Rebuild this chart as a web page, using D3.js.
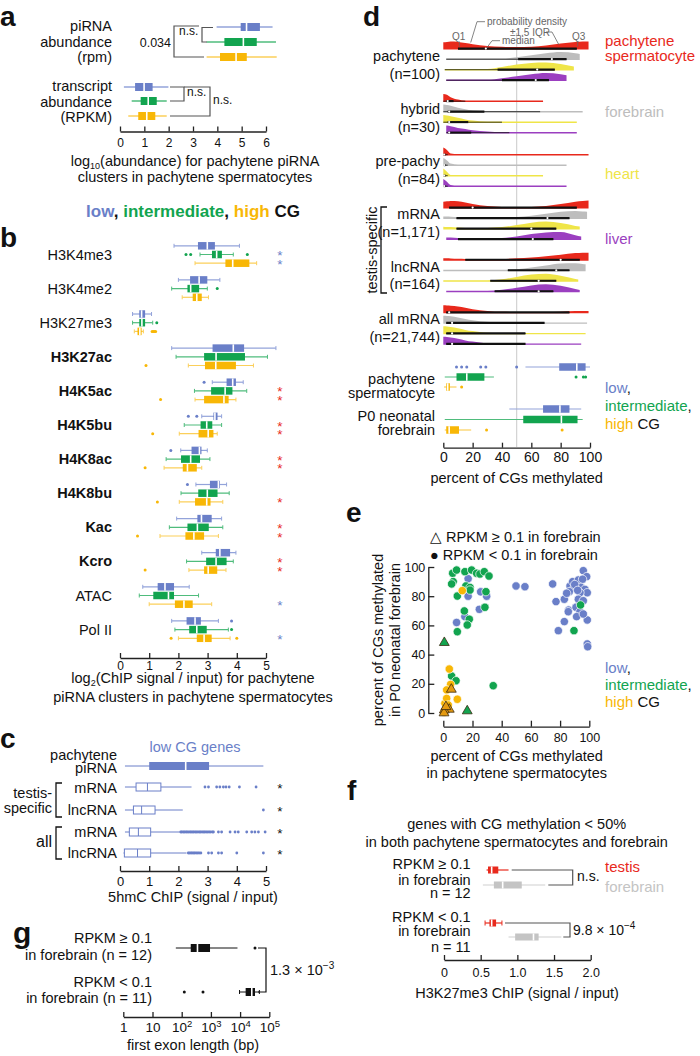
<!DOCTYPE html>
<html><head><meta charset="utf-8">
<script src="https://cdn.jsdelivr.net/npm/d3@7"></script>
<style>body{margin:0;background:#fff}svg{display:block}text{font-family:'Liberation Sans',Arial,Helvetica,sans-serif}</style>
</head><body><svg id="c" width="700" height="1056"></svg>
<script>
// ---------------- DATA ----------------
// panel a: [whiskerLo, Q1, median, Q3, whiskerHi] (log10 abundance)
const aPiRNA = [[3.97,4.96,5.2,5.75,6.27],[3.56,4.29,5.07,5.62,6.41],[3.56,4.11,4.77,5.21,6.44]];
const aTranscript = [[0.16,0.62,0.99,1.34,1.99],[0.48,0.85,1.16,1.51,1.92],[0.34,0.75,1.1,1.45,1.92]];
const aTicks = [0,1,2,3,4,5,6];
// panel b
const bMarks = ["H3K4me3","H3K4me2","H3K27me3","H3K27ac","H4K5ac","H4K5bu","H4K8ac","H4K8bu","Kac","Kcro","ATAC","Pol II"];
const bBold = [false,false,false,true,true,true,true,true,true,true,false,false];
const bLow = [[1.85,2.67,2.99,3.25,4.09],[2.0,2.4,2.71,2.99,3.42],[0.43,0.66,0.74,0.86,1.08],[1.77,3.17,3.88,4.25,5.34],[3.16,3.65,3.86,3.97,4.22],[2.8,3.2,3.25,3.34,3.48],[2.08,2.45,2.72,2.79,2.99],[2.6,3.08,3.37,3.42,3.65],[1.94,2.65,2.79,3.14,3.48],[2.8,3.28,3.42,3.77,3.97],[0.78,1.29,1.54,1.85,2.37],[1.77,2.28,2.57,2.77,3.37]];
const bMid = [[2.74,3.15,3.31,3.49,3.88],[1.77,2.31,2.42,2.71,2.99],[0.43,0.66,0.75,0.86,1.12],[1.92,2.88,3.29,4.28,5.05],[2.55,3.12,3.6,3.85,4.34],[2.2,2.76,2.97,3.16,3.48],[1.58,2.09,2.42,2.74,3.08],[2.09,2.68,2.99,3.34,3.74],[1.69,2.31,2.65,3.04,3.52],[2.28,2.95,3.29,3.65,3.88],[0.66,1.14,1.66,1.85,2.69],[1.88,2.37,2.63,2.97,3.71]];
const bHigh = [[2.57,3.61,3.86,4.43,4.68],[2.13,2.49,2.63,2.8,3.03],[0.49,0.6,0.68,0.74,0.8],[2.34,2.91,3.28,3.97,4.57],[2.57,2.88,3.56,3.72,3.97],[2.03,2.69,3.02,3.2,3.33],[1.51,2.15,2.31,2.63,2.8],[2.03,2.57,2.97,3.1,3.52],[1.37,2.24,2.53,2.88,3.37],[2.36,2.88,3.02,3.33,3.63],[1.0,1.88,2.19,2.49,3.14],[2.0,2.63,2.88,3.14,3.77]];
const bLowOut = [[],[],[],[],[2.88],[2.34,2.63],[1.74],[2.31],[],[],[],[3.82]];
const bMidOut = [[2.26,2.42,4.36],[3.33],[1.26],[],[],[],[],[],[],[],[],[3.82]];
const bHighOut = [[],[],[1.1,1.14,1.18,1.22],[0.89],[1.39],[1.12],[0.86],[1.28],[0.6],[0.86],[],[1.75,4.0]];
const bStarColor = ["blue",null,null,null,"red","red","red","red","red","red","blue","blue"];
const bStarRows = [[1,2],[],[],[],[1,2],[1,2],[1,2],[2],[1,2],[1,2],[2],[2]];
const bTicks = [0,1,2,3,4,5];
// panel c
const cStats = [[0.17,1.0,2.25,3.05,4.91],[0.17,0.55,0.94,1.4,2.45],[0.17,0.46,0.74,1.2,2.15],[0.17,0.32,0.63,1.05,2.05],[0.12,0.15,0.6,1.05,2.28]];
const cOut = [[],[2.91,3.03,3.31,3.42,3.54,3.63,3.74,4.09,4.66],[4.91],
 [2.08,2.12,2.17,2.21,2.26,2.3,2.35,2.4,2.44,2.49,2.53,2.58,2.62,2.67,2.72,2.76,2.81,2.86,2.9,2.95,3.0,3.05,3.1,3.16,3.2,3.37,3.48,3.77,3.94,4.05,4.34,4.51,4.62,4.74,4.97],
 [2.34,2.38,2.43,2.47,2.52,2.56,2.61,2.66,2.71,2.77,3.03,3.14,3.37,3.48,4.0,4.91]];
const cStar = [false,true,true,true,true];
// panel g (bp)
const gStats = [[63,204,347,933,8128],[9550,15488,25119,32359,45709]];
const gOut = [[32359],[123,537]];
const gTicks = [1,10,100,1000,10000,100000];
// panel d
const dGrid = [0,2.5,5,10,15,20,30,40,50,60,70,80,90,95,100];
const dGroupLabels = [["pachytene","(n=100)"],["hybrid","(n=30)"],["pre-pachy","(n=84)"],["mRNA","(n=1,171)"],["lncRNA","(n=164)"],["all mRNA","(n=21,744)"]];
const dTissues = ["pachytene spermatocyte","forebrain","heart","liver"];
const dDensPachytene = [[0.9,0.95,1,0.95,0.8,0.65,0.45,0.35,0.3,0.35,0.5,0.75,0.95,1,1],[0.05,0.05,0.05,0.05,0.05,0.06,0.08,0.15,0.35,0.6,0.85,1,0.85,0.7,0.6],[0.05,0.05,0.05,0.06,0.07,0.1,0.2,0.45,0.75,0.95,1,0.8,0.45,0.3,0.2],[0.05,0.05,0.05,0.06,0.07,0.08,0.15,0.35,0.6,0.85,1,0.85,0.5,0.3,0.2]];
const dDensHybrid = [[1,0.9,0.6,0.3,0.12,0.05,0.02,0.02,0.02,0.02,0.02,0,0,0,0],[1,0.95,0.85,0.6,0.4,0.25,0.12,0.06,0.05,0.04,0.04,0.04,0.05,0.05,0.05],[1,0.95,0.85,0.65,0.45,0.3,0.15,0.08,0.05,0.04,0.04,0.04,0.04,0,0],[0.9,1,0.9,0.7,0.55,0.4,0.25,0.12,0.06,0.04,0.04,0.04,0.04,0,0]];
const dDensPrePachy = [[1,0.7,0.25,0.05,0.02,0.01,0,0,0,0,0,0,0,0,0],[1,0.7,0.3,0.05,0.02,0.01,0,0,0,0,0,0,0,0,0],[1,0.6,0.2,0.05,0.02,0.01,0,0,0,0,0,0,0,0,0],[1,0.65,0.25,0.05,0.02,0.01,0,0,0,0,0,0,0,0,0]];
const dDensTsMRNA = [[0.85,0.9,0.95,0.9,0.75,0.55,0.3,0.2,0.18,0.2,0.3,0.55,0.85,0.95,1],[0.3,0.3,0.28,0.25,0.22,0.2,0.2,0.2,0.25,0.4,0.65,0.9,1,0.95,0.9],[0.35,0.32,0.3,0.25,0.2,0.2,0.2,0.3,0.55,0.85,1,0.8,0.45,0.3,0.2],[0.35,0.32,0.3,0.25,0.2,0.18,0.18,0.25,0.45,0.75,0.95,1,0.6,0.4,0.3]];
const dDensTsLnc = [[0.3,0.3,0.28,0.25,0.22,0.2,0.2,0.22,0.3,0.4,0.55,0.75,0.95,1,1],[0.1,0.1,0.1,0.1,0.1,0.1,0.12,0.15,0.25,0.45,0.7,0.95,1,0.9,0.8],[0.08,0.08,0.08,0.08,0.08,0.1,0.15,0.3,0.6,0.9,1,0.75,0.35,0.2,0.1],[0.08,0.08,0.08,0.08,0.08,0.1,0.15,0.3,0.55,0.85,1,0.8,0.4,0.2,0.1]];
const dDensAllMRNA = [[1,0.98,0.95,0.85,0.7,0.5,0.3,0.18,0.12,0.12,0.15,0.2,0.28,0.3,0.3],[1,0.98,0.95,0.8,0.6,0.45,0.25,0.15,0.1,0.08,0.07,0.07,0.06,0.05,0.05],[1,0.98,0.9,0.75,0.55,0.4,0.2,0.1,0.07,0.06,0.05,0.05,0.05,0,0],[1,0.98,0.9,0.75,0.55,0.4,0.2,0.1,0.07,0.06,0.05,0.05,0.04,0,0]];
const dExtPachytene = [[0,99],[2,93],[1,89],[2,84]];
const dExtHybrid = [[0,68],[0,95],[0,91],[2,91]];
const dExtPrePachy = [[0,99],[0,84],[0,68],[0,84]];
const dExtTsMRNA = [[0,99],[0,98],[0,93],[2,94]];
const dExtTsLnc = [[0,99],[0,97],[0,92],[2,93]];
const dExtAllMRNA = [[0,99],[0,98],[0,97],[0,94]];
const dBoxPachytene = [[10,10,29,91,91],[2,51,74,84,84],[1,37,64,76,76],[2,40,63,72,72]];
const dBoxHybrid = [[0,2,3,7,15],[0,3,4,28,66],[0,3,4,17,40],[2,3,4,19,45]];
const dBoxPrePachy = [[0,0.3,0.6,1.5,3],[0,0.3,0.6,1.5,3],[0,0.3,0.6,1.5,3],[0,0.3,0.6,1.5,3]];
const dBoxTsMRNA = [[4,4,20,91,91],[9,9,71,86,86],[9,9,60,77,77],[10,10,61,75,75]];
const dBoxTsLnc = [[15,15,80,93,93],[44,44,77,86,86],[32,32,65,77,77],[35,35,65,75,75]];
const dBoxAllMRNA = [[2,2,4,86,86],[2,2,6,69,69],[2,2,6,56,56],[2,2,6,56,56]];
const dMethSperm = [[56,79,91,97,100],[1,9,16,28,34.5],[0.5,2,3,4.5,9]];
const dMethSpermOut = [[9,12.5,16,25.5,29,50],[90.5,95.5,97],[12.5]];
const dMethBrain = [[45,68,79.5,86,94],[1,54.5,80.5,91.5,95],[1,2,4,10.7,19]];
const dMethBrainOut = [[],[],[29.5,81]];
const dTicks = [0,20,40,60,80,100];
// panel e  [pachytene %, forebrain %]
const eLow = [[17,92],[17,80],[25.6,83],[29.7,80],[24.7,71],[9.1,62],[14.8,66],[49.8,87],[55.9,86.5],[74.9,88.4],[77.2,76.3],[82.9,77.9],[86.8,87],[88.6,90],[92.5,91.1],[95.9,97.5],[98.2,93.4],[95.4,91.6],[89.5,85.4],[94.2,86.1],[97,84.7],[98.6,82.4],[86.3,83.1],[93.6,82.4],[92.5,77.9],[95.9,76.9],[85.8,70.5],[90.9,72.4],[93.6,69.4],[91.3,66],[85.6,69.4],[82.9,62.6],[78.8,56.4],[98.6,63.7],[98.6,47.3],[98.9,45.4],[84.5,82],[95.9,67.8],[90,88],[92,84]];
const eMid = [[6.4,95.7],[9.1,97.9],[6.8,90],[5.7,88.4],[14.8,96.8],[19.4,97.9],[22.8,95.7],[25.1,95.2],[28.1,96.8],[31.3,93.8],[15.5,87],[18.3,86],[18.3,84.2],[9.6,80.1],[29.2,83.1],[14.4,69.9],[28.5,72.4],[17.8,64.2],[9.6,55.7],[16.4,60.3],[94,74],[89.5,56.4],[5.7,25.3],[8.7,22.1],[34.2,18.7]];
const eMidTri = [[0.7,48.2],[16.4,1.4]];
const eHigh = [[13,83.8],[4.1,30.1],[5,19.6],[2.3,15.8],[1.1,6.6],[9.6,9.4],[2.3,10],[3.4,5.5],[0.5,0.5]];
const eHighTri = [[5.5,16.2],[4.1,2.5],[0.7,2],[0.5,0],[1.8,4.3]];
const eTicks = [0,20,40,60,80,100];
// panel f
const fTestis = [[0.58,0.6,0.65,0.74,0.88],[0.56,0.62,0.65,0.71,0.79]];
const fBrain = [[0.53,0.68,0.8,1.06,1.38],[0.88,0.97,1.22,1.29,1.6]];
const fTicks = [0,0.5,1,1.5,2];
const fTickLabels = ["0","0.5","1.0","1.5","2.0"];

// ---------------- DRAW ----------------
const COL = {blue:"#6a7fc8",blueW:"#93a3da",green:"#12a44f",greenW:"#4fbc7c",yellow:"#f8b706",yellowW:"#fbcf5a",
  red:"#e8291c",gray:"#bdbdbd",dyellow:"#efe548",purple:"#9b3fc0",ink:"#111",brk:"#555"};
const svg = d3.select("#c");
const root = svg.append("g");

function T(x,y,s,o={}){
  const t=root.append("text").attr("x",x).attr("y",y).text(s)
   .attr("font-size",o.size||14.5).attr("text-anchor",o.anchor||"start")
   .attr("font-weight",o.weight||"normal").attr("fill",o.fill||COL.ink);
  if(o.rotate) t.attr("transform",`rotate(${o.rotate},${x},${y})`);
  return t;
}
function TS(x,y,parts,o={}){
  const t=root.append("text").attr("x",x).attr("y",y).attr("font-size",o.size||15)
   .attr("text-anchor",o.anchor||"start").attr("font-weight",o.weight||"normal");
  parts.forEach(p=>t.append("tspan").attr("fill",p[1]).attr("font-weight",p[2]||null).text(p[0]));
  return t;
}
function P(pts,stroke,w){root.append("path").attr("d",d3.line()(pts)).attr("fill","none").attr("stroke",stroke).attr("stroke-width",w||1.2);}
function box(x,y,s,o){
  const h=o.h||7,g=root.append("g");
  g.append("line").attr("x1",x(s[0])).attr("x2",x(s[4])).attr("y1",y).attr("y2",y).attr("stroke",o.wc).attr("stroke-width",o.ww||1.2);
  if(o.caps){[s[0],s[4]].forEach(v=>g.append("line").attr("x1",x(v)).attr("x2",x(v)).attr("y1",y-o.caps/2).attr("y2",y+o.caps/2).attr("stroke",o.wc).attr("stroke-width",1));}
  if(o.open){
    g.append("rect").attr("x",x(s[1])).attr("y",y-h/2).attr("width",x(s[3])-x(s[1])).attr("height",h).attr("fill","#fff").attr("stroke",o.fill).attr("stroke-width",1);
    g.append("line").attr("x1",x(s[2])).attr("x2",x(s[2])).attr("y1",y-h/2).attr("y2",y+h/2).attr("stroke",o.fill).attr("stroke-width",1);
  } else {
    g.append("rect").attr("x",x(s[1])).attr("y",y-h/2).attr("width",Math.max(1,x(s[3])-x(s[1]))).attr("height",h).attr("fill",o.fill);
    g.append("line").attr("x1",x(s[2])).attr("x2",x(s[2])).attr("y1",y-h/2).attr("y2",y+h/2).attr("stroke","#fff").attr("stroke-width",o.mw||1.6);
  }
  (o.out||[]).forEach(v=>g.append("circle").attr("cx",x(v)).attr("cy",y).attr("r",o.r||1.5).attr("fill",o.oc||o.fill));
}
function bAxis(scale,y,ticks,fs,pad,fmt,tick){
  const ax=d3.axisBottom(scale).tickValues(ticks).tickSizeInner(-(tick||5)).tickSizeOuter(0).tickPadding(pad)
    .tickFormat(fmt||d3.format("d"));
  const a=root.append("g").attr("transform",`translate(0,${y})`).call(ax);
  a.attr("font-family",null).attr("font-size",null);
  a.select(".domain").attr("stroke","#222").attr("stroke-width",1.3);
  a.selectAll(".tick line").attr("stroke","#222").attr("stroke-width",1.3);
  a.selectAll(".tick text").attr("font-size",fs).attr("fill",COL.ink);
  return a;
}
function star(x,y,c){T(x,y+5.5,"*",{size:13.5,anchor:"middle",fill:c});}
const cset=[{fill:COL.blue,wc:COL.blueW},{fill:COL.green,wc:COL.greenW},{fill:COL.yellow,wc:COL.yellowW}];

// ===== panel a =====
T(0,26,"a",{size:28,weight:"bold"});
const xA=d3.scaleLinear().domain([0,6]).range([120,266]);
["piRNA","abundance","(rpm)"].forEach((s,i)=>T(112,31+i*15.5,s,{anchor:"end"}));
["transcript","abundance","(RPKM)"].forEach((s,i)=>T(112,91+i*15.5,s,{anchor:"end"}));
const aY1=[27,42,57],aY2=[87,101,116];
aPiRNA.forEach((s,i)=>box(xA,aY1[i],s,{...cset[i],h:8,ww:1.3}));
aTranscript.forEach((s,i)=>box(xA,aY2[i],s,{...cset[i],h:8,ww:1.3}));
P([[213,27.5],[202,27.5],[202,42],[207,42]],COL.brk);
P([[199,26],[174,26],[174,57],[204,57]],COL.brk);
T(179,35,"n.s.",{size:12});
T(171,47,"0.034",{size:12.5,anchor:"end"});
P([[170,87],[184,87],[184,101],[170,101]],COL.brk);
P([[184,87],[210,87],[210,116],[170,116]],COL.brk);
T(187,96,"n.s.",{size:12});
T(213,104,"n.s.",{size:12});
bAxis(xA,131.5,aTicks,12,6.5);
{const t=T(195,166,"log",{anchor:"middle"});t.append("tspan").attr("font-size",9).attr("dy",3).text("10");t.append("tspan").attr("dy",-3).text("(abundance) for pachytene piRNA");}
T(195,181.5,"clusters in pachytene spermatocytes",{anchor:"middle"});

// ===== panel b =====
TS(193,217,[["low",COL.blue],[", ",COL.ink],["intermediate",COL.green],[", ",COL.ink],["high",COL.yellow],[" CG",COL.ink]],{size:17,weight:"bold",anchor:"middle"});
T(0,247,"b",{size:28,weight:"bold"});
const xB=d3.scaleLinear().domain([0,5]).range([120,266]);
const yB=d3.scalePoint().domain(bMarks).range([254.5,629.6]);
const bOff=[-8.7,0,8.7];
bMarks.forEach((m,i)=>{
  const y=yB(m);
  T(112,y+5,m,{anchor:"end",weight:bBold[i]?"bold":"normal"});
  [bLow,bMid,bHigh].forEach((arr,k)=>box(xB,y+bOff[k],arr[i],{...cset[k],h:7.5,caps:4,out:[bLowOut,bMidOut,bHighOut][k][i]}));
  bStarRows[i].forEach(r=>star(280,y+bOff[r],bStarColor[i]==="red"?COL.red:COL.blue));
});
bAxis(xB,658,bTicks,12,3.5);
{const t=T(193,683,"log",{anchor:"middle"});t.append("tspan").attr("font-size",9).attr("dy",3).text("2");t.append("tspan").attr("dy",-3).text("(ChIP signal / input) for pachytene");}
T(193,702,"piRNA clusters in pachytene spermatocytes",{anchor:"middle"});

// ===== panel c =====
T(0,748,"c",{size:28,weight:"bold"});
T(195,752,"low CG genes",{anchor:"middle",fill:COL.blue});
const xC=d3.scaleLinear().domain([0,5]).range([120,266]);
const cY=[766,787,810,832,853];
T(117,760,"pachytene",{anchor:"end"});T(117,773,"piRNA",{anchor:"end"});
T(117,792.5,"mRNA",{anchor:"end"});T(117,815,"lncRNA",{anchor:"end"});
T(117,837,"mRNA",{anchor:"end"});T(117,858,"lncRNA",{anchor:"end"});
T(52,798,"testis-",{anchor:"end"});T(52,813,"specific",{anchor:"end"});
T(52,847,"all",{anchor:"end",size:16});
P([[62,783],[56,783],[56,817],[62,817]],"#111",1.3);
P([[62,827],[56,827],[56,859],[62,859]],"#111",1.3);
cStats.forEach((s,i)=>{
  box(xC,cY[i],s,{fill:COL.blue,wc:COL.blue,ww:1,h:8,open:i>0,out:cOut[i],r:1.4});
  if(cStar[i]) star(280,cY[i],"#111");
});
bAxis(xC,871,bTicks,13,5.8);
T(193,902,"5hmC ChIP (signal / input)",{anchor:"middle"});

// ===== panel g =====
T(13,943,"g",{size:30,weight:"bold"});
const xG=d3.scaleLog().domain([1,1e5]).range([123.3,269.3]);
T(152,943,"RPKM ≥ 0.1",{anchor:"end"});T(152,960,"in forebrain (n = 12)",{anchor:"end"});
T(152,987,"RPKM < 0.1",{anchor:"end"});T(152,1003,"in forebrain (n = 11)",{anchor:"end"});
const gY=[948,992];
gStats.forEach((s,i)=>{box(xG,gY[i],s,{fill:"#111",wc:"#111",ww:1,h:8,caps:i===1?4:0,out:gOut[i],r:1.5});});
P([[258,948],[266,948],[266,992],[258,992]],"#111",1.2);
{const t=T(270,975,"1.3 × 10");t.append("tspan").attr("font-size",10).attr("dy",-6).text("−3");}
{const a=bAxis(xG,1017,gTicks,13.5,5.1,d=>"");
 a.selectAll(".tick text").each(function(d){const e=d3.select(this);const p=Math.round(Math.log10(d));
   if(p<2){e.text(d);}else{e.text("10");e.append("tspan").attr("font-size",9.5).attr("dy",-5).text(p);}});}
T(193,1050,"first exon length (bp)",{anchor:"middle"});

// ===== panel d =====
T(363,26,"d",{size:28,weight:"bold"});
const xD=d3.scaleLinear().domain([0,100]).range([443.3,590]);
root.append("line").attr("x1",xD(50)).attr("x2",xD(50)).attr("y1",33).attr("y2",447).attr("stroke","#d2d2d2").attr("stroke-width",1.2);
const dCols=[COL.red,COL.gray,COL.dyellow,COL.purple];
const dBase=[49.5,102,155.5,208.5,260.7,313.3];
const dDens=[dDensPachytene,dDensHybrid,dDensPrePachy,dDensTsMRNA,dDensTsLnc,dDensAllMRNA];
const dExt=[dExtPachytene,dExtHybrid,dExtPrePachy,dExtTsMRNA,dExtTsLnc,dExtAllMRNA];
const dBox=[dBoxPachytene,dBoxHybrid,dBoxPrePachy,dBoxTsMRNA,dBoxTsLnc,dBoxAllMRNA];
function interp(dens,v){for(let i=0;i<dGrid.length-1;i++){if(v>=dGrid[i]&&v<=dGrid[i+1]){const t=(v-dGrid[i])/(dGrid[i+1]-dGrid[i]);return dens[i]*(1-t)+dens[i+1]*t;}}return dens[dens.length-1];}
function violin(y0,dens,ext,st,col){
  let pts=dGrid.map((g,i)=>[g,dens[i]]).filter(p=>p[0]>=ext[0]&&p[0]<=ext[1]);
  if(!pts.length||pts[0][0]>ext[0]) pts.unshift([ext[0],interp(dens,ext[0])]);
  if(pts[pts.length-1][0]<ext[1]) pts.push([ext[1],interp(dens,ext[1])]);
  const H=8;
  const area=d3.area().x(d=>xD(d[0])).y0(y0).y1(d=>y0-Math.max(d[1]*H,1.4)).curve(d3.curveMonotoneX);
  root.append("path").attr("d",area(pts)).attr("fill",col);
  root.append("line").attr("x1",xD(st[0])).attr("x2",xD(st[4])).attr("y1",y0-0.8).attr("y2",y0-0.8).attr("stroke","#111").attr("stroke-width",0.8);
  root.append("line").attr("x1",xD(st[1])).attr("x2",xD(st[3])).attr("y1",y0-0.9).attr("y2",y0-0.9).attr("stroke","#111").attr("stroke-width",2.1);
  root.append("circle").attr("cx",xD(st[2])).attr("cy",y0-0.9).attr("r",1.1).attr("fill","#fff");
}
dBase.forEach((b,gi)=>{
  for(let k=0;k<4;k++) violin(b+k*10.5,dDens[gi][k],dExt[gi][k],dBox[gi][k],dCols[k]);
});
const dLabY=[[61,78.5],[113.5,131.5],[166,184],[218.5,236.5],[271.5,289],[324,341.5]];
dGroupLabels.forEach((l,i)=>{T(440,dLabY[i][0],l[0],{anchor:"end"});T(440,dLabY[i][1],l[1],{anchor:"end"});});
T(376.5,250,"testis-specific",{anchor:"middle",rotate:-90});
P([[387,207],[381,207],[381,293],[387,293]],"#111",1.3);
T(605,46,"pachytene",{size:15,fill:COL.red});T(605,61,"spermatocyte",{size:15,fill:COL.red});
T(605,117,"forebrain",{size:15,fill:COL.gray});
T(605,179,"heart",{size:15,fill:COL.dyellow});
T(605,244,"liver",{size:15,fill:COL.purple});
// annotations
const an="#666";
T(487,25,"probability density",{size:10,fill:an});
P([[485,21.7],[477,21.7],[470.7,42.5]],an,0.8);
T(510,35.5,"±1.5 IQR",{size:10,fill:an});
P([[546,32],[552,32],[559,45]],an,0.8);
T(502,44,"median",{size:10,fill:an});
P([[500,40.7],[492,40.7],[486.7,48]],an,0.8);
T(452,39.5,"Q1",{size:10,fill:an});P([[459.3,41.5],[459.3,46.5]],an,0.8);
T(572,39.5,"Q3",{size:10,fill:an});P([[577.7,41.5],[577.7,46.5]],an,0.8);
// methylation boxes
const dMY1=[367,377,387],dMY2=[409,419.5,430];
dMethSperm.forEach((s,i)=>box(xD,dMY1[i],s,{...cset[i],h:7.5,out:dMethSpermOut[i]}));
dMethBrain.forEach((s,i)=>box(xD,dMY2[i],s,{...cset[i],h:7.5,out:dMethBrainOut[i]}));
T(435,384,"pachytene",{anchor:"end"});T(435,397.5,"spermatocyte",{anchor:"end"});
T(435,421,"P0 neonatal",{anchor:"end"});T(435,435,"forebrain",{anchor:"end"});
TS(605,393,[["low",COL.blue],[",",COL.ink]]);
TS(605,411,[["intermediate",COL.green],[",",COL.ink]]);
TS(605,428.5,[["high",COL.yellow],[" CG",COL.ink]]);
bAxis(xD,447.7,dTicks,14,4);
T(516.7,483,"percent of CGs methylated",{anchor:"middle"});

// ===== panel e =====
T(346,522,"e",{size:28,weight:"bold"});
T(430,542,"△ RPKM ≥ 0.1 in forebrain");
T(430,560,"● RPKM < 0.1 in forebrain");
const xE=d3.scaleLinear().domain([0,100]).range([443.3,589.3]);
const yE=d3.scaleLinear().domain([0,100]).range([713,567]);
bAxis(xE,726.7,eTicks,12.5,6.4,null,6);
{const ax=d3.axisLeft(yE).tickValues(eTicks).tickSizeInner(-6).tickSizeOuter(0).tickPadding(3).tickFormat(d3.format("d"));
 const a=root.append("g").attr("transform","translate(428.3,0)").call(ax);
 a.attr("font-family",null).attr("font-size",null);
 a.select(".domain").attr("stroke","#222").attr("stroke-width",1.3);
 a.selectAll(".tick line").attr("stroke","#222").attr("stroke-width",1.3);
 a.selectAll(".tick text").attr("font-size",12.5).attr("fill",COL.ink);}
function dots(arr,c){arr.forEach(p=>root.append("circle").attr("cx",xE(p[0])).attr("cy",yE(p[1])).attr("r",4.2).attr("fill",c).attr("stroke","#fff").attr("stroke-width",0.7));}
function tris(arr,c){const s=d3.symbol(d3.symbolTriangle,42);arr.forEach(p=>root.append("path").attr("d",s()).attr("transform",`translate(${xE(p[0])},${yE(p[1])})`).attr("fill",c).attr("stroke","#3a2a10").attr("stroke-width",0.8));}
dots(eLow,COL.blue);dots(eMid,COL.green);dots(eHigh,COL.yellow);
tris(eMidTri,COL.green);tris(eHighTri,"#e59a10");
T(516.7,761,"percent of CGs methylated",{anchor:"middle"});
T(516.7,777.5,"in pachytene spermatocytes",{anchor:"middle"});
T(383,640,"percent of CGs methylated",{anchor:"middle",rotate:-90});
T(400,640,"in P0 neonatal forebrain",{anchor:"middle",rotate:-90});
TS(605,672.5,[["low",COL.blue],[",",COL.ink]]);
TS(605,689.5,[["intermediate",COL.green],[",",COL.ink]]);
TS(605,706.5,[["high",COL.yellow],[" CG",COL.ink]]);

// ===== panel f =====
T(347,800,"f",{size:28,weight:"bold"});
T(516.7,829,"genes with CG methylation < 50%",{anchor:"middle"});
T(516.7,847,"in both pachytene spermatocytes and forebrain",{anchor:"middle"});
const xF=d3.scaleLinear().domain([0,2]).range([444,590.7]);
T(470.7,869,"RPKM ≥ 0.1",{anchor:"end"});T(470.7,885,"in forebrain",{anchor:"end"});T(470.7,898,"n = 12",{anchor:"end"});
T(470.7,921.5,"RPKM < 0.1",{anchor:"end"});T(470.7,936,"in forebrain",{anchor:"end"});T(470.7,951.5,"n = 11",{anchor:"end"});
const fYt=[870,923],fYb=[885,937];
fTestis.forEach((s,i)=>box(xF,fYt[i],s,{fill:COL.red,wc:COL.red,h:7,caps:i===1?5:0}));
fBrain.forEach((s,i)=>box(xF,fYb[i],s,{fill:"#c4c4c4",wc:"#cfcfcf",h:7}));
P([[511.7,870],[572.7,870],[572.7,885],[548.3,885]],COL.brk);
P([[505,923],[570,923],[570,937],[563.3,937]],COL.brk);
T(577,881,"n.s.",{size:14});
{const t=T(573,935,"9.8 × 10",{size:14});t.append("tspan").attr("font-size",10).attr("dy",-6).text("−4");}
T(605,871.5,"testis",{size:15,fill:COL.red});
T(605,891.5,"forebrain",{size:15,fill:"#c4c4c4"});
bAxis(xF,960,fTicks,12.5,8.1,(d,i)=>fTickLabels[i]);
T(517,997.5,"H3K27me3 ChIP (signal / input)",{anchor:"middle"});
</script></body></html>
